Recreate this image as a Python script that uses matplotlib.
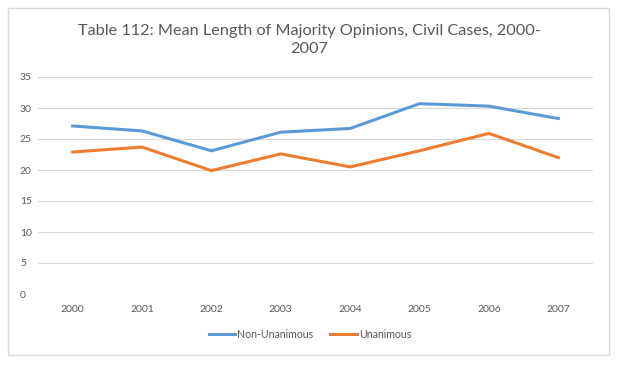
import matplotlib.pyplot as plt
from matplotlib.patches import Rectangle

years = ['2000', '2001', '2002', '2003', '2004', '2005', '2006', '2007']
non_unanimous = [27.1, 26.3, 23.1, 26.1, 26.7, 30.7, 30.3, 28.3]
unanimous = [22.9, 23.7, 19.9, 22.6, 20.5, 23.1, 25.9, 22.0]

plt.rcParams['font.family'] = ['Lato', 'DejaVu Sans']

fig = plt.figure(figsize=(6.19, 3.65), dpi=100)
fig.patches.append(Rectangle((8 / 619, 10 / 365), 601 / 619, 347 / 365,
                             transform=fig.transFigure, fill=False,
                             edgecolor='#d9d9d9', linewidth=1))
ax = fig.add_axes([38 / 619, 71 / 365, 555 / 619, 217 / 365])

x = range(len(years))
ax.plot(x, non_unanimous, color='#5B9BD5', linewidth=2.2, label='Non-Unanimous')
ax.plot(x, unanimous, color='#ED7D31', linewidth=2.2, label='Unanimous')

ax.set_xlim(-0.5, len(years) - 0.5)
ax.set_ylim(0, 35)
ax.set_yticks(range(0, 36, 5))
ax.set_xticks(list(x))
ax.set_xticklabels(years)
ax.grid(axis='y', color='#d9d9d9', linewidth=0.8)
ax.set_axisbelow(True)
for s in ax.spines.values():
    s.set_visible(False)
ax.tick_params(length=0, labelsize=7.5, colors='#595959', pad=8)
ax.tick_params(axis='y', pad=13)
for lbl in ax.get_yticklabels():
    lbl.set_horizontalalignment('left')

fig.text(0.5, 1 - 40 / 365,
         'Table 112: Mean Length of Majority Opinions, Civil Cases, 2000-\n2007',
         ha='center', va='center', fontsize=11.7, color='#595959', linespacing=1.45)

fig.legend(loc='center', bbox_to_anchor=(310 / 619, 1 - 334 / 365), ncol=2,
           frameon=False, fontsize=7.6, labelcolor='#595959', handlelength=2.5,
           handletextpad=0.2, columnspacing=1.6)

fig.savefig('out.png', dpi=100)
